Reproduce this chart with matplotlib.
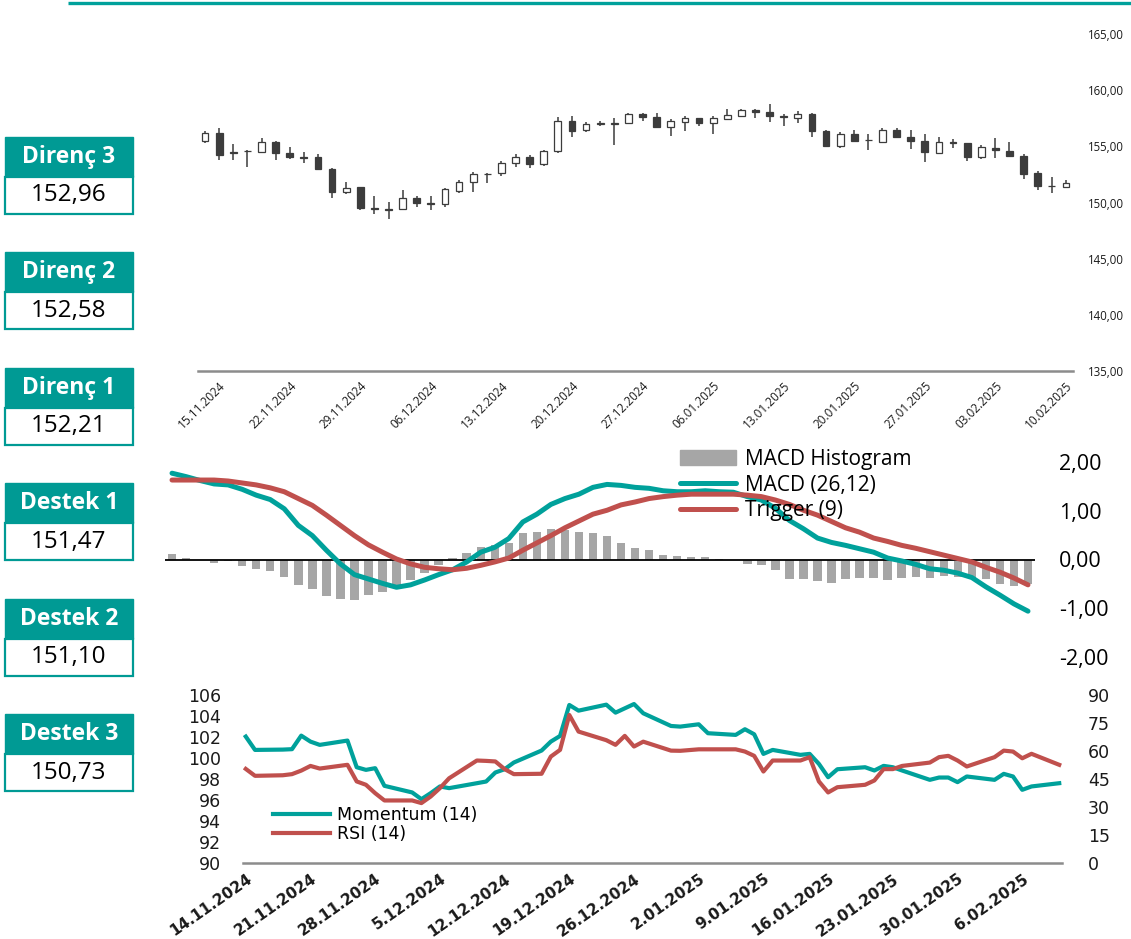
import matplotlib
matplotlib.use("Agg")
import matplotlib.pyplot as plt
import matplotlib.dates as mdates
from matplotlib.patches import Patch, Rectangle
import numpy as np
import pandas as pd

W, H = 1131, 939
PT = 0.72  # points per pixel at dpi 100
TEAL = "#00A19B"
BOX_TEAL = "#009A94"
RED = "#C0504D"
DARK = "#3C3C3C"
GREY_BAR = "#A6A6A6"

# trading days shared by all panels (1 Jan 2025 is missing in the feed)
days = pd.bdate_range("2024-11-14", "2025-02-10")
days = days[days != pd.Timestamp("2025-01-01")]

# --- daily candles ---
opens = [155.50, 156.22, 154.45, 154.58, 154.53, 155.38, 154.38, 154.05, 154.08, 152.95,
         150.96, 151.35, 149.50, 149.41, 149.39, 150.37, 149.94, 149.87, 151.05, 151.85,
         152.52, 152.60, 153.55, 154.08, 153.40, 154.59, 157.26, 156.45, 157.03, 157.03,
         157.05, 157.85, 157.64, 156.69, 157.14, 157.49, 157.05, 157.43, 157.73, 158.23,
         158.09, 157.66, 157.49, 157.88, 156.37, 155.06, 156.10, 155.58, 155.36, 156.45,
         155.86, 155.50, 154.44, 155.35, 155.27, 154.08, 154.88, 154.58, 154.17, 152.60,
         151.49, 151.41]
highs = [156.36, 156.60, 155.21, 154.64, 155.71, 155.47, 154.91, 154.53, 154.32, 153.04,
         151.85, 151.41, 150.58, 150.07, 151.11, 150.58, 150.58, 151.26, 152.00, 152.74,
         152.65, 153.69, 154.29, 154.23, 154.67, 157.64, 157.73, 157.20, 157.26, 157.49,
         157.94, 157.94, 157.94, 157.43, 157.73, 157.55, 157.73, 158.29, 158.29, 158.29,
         158.74, 157.88, 158.15, 157.94, 156.45, 156.25, 156.45, 156.07, 156.60, 156.60,
         156.45, 156.07, 155.86, 155.62, 155.27, 155.12, 155.77, 155.36, 154.29, 152.80,
         152.30, 152.00]
lows = [155.27, 153.78, 153.78, 153.19, 154.44, 153.78, 153.84, 153.49, 152.89, 150.37,
        150.76, 149.33, 148.98, 148.53, 149.39, 149.63, 149.33, 149.63, 150.82, 150.96,
        151.71, 152.39, 153.19, 153.04, 153.28, 154.38, 155.86, 156.25, 156.84, 155.12,
        156.96, 157.26, 156.60, 155.92, 156.37, 156.81, 156.10, 157.35, 157.70, 157.49,
        157.20, 156.81, 157.05, 155.86, 154.97, 154.88, 155.36, 154.67, 155.27, 155.71,
        154.73, 153.64, 154.38, 154.82, 153.72, 153.87, 153.93, 154.14, 152.09, 151.11,
        150.82, 151.41]
closes = [156.22, 154.23, 154.42, 154.60, 155.36, 154.38, 154.08, 154.00, 152.95, 150.96,
          151.32, 149.48, 149.46, 149.37, 150.37, 149.98, 149.90, 151.17, 151.85, 152.54,
          152.56, 153.55, 154.08, 153.40, 154.61, 157.26, 156.37, 156.99, 157.07, 157.07,
          157.88, 157.64, 156.69, 157.26, 157.55, 157.05, 157.49, 157.79, 158.23, 158.03,
          157.73, 157.62, 157.88, 156.37, 155.06, 156.10, 155.50, 155.54, 156.45, 155.86,
          155.50, 154.47, 155.42, 155.31, 154.08, 154.97, 154.67, 154.14, 152.54, 151.47,
          151.45, 151.71]

# --- MACD panel ---
macd_hist = [0.12, 0.03, -0.01, -0.08, -0.04, -0.13, -0.19, -0.24, -0.35, -0.52,
             -0.60, -0.75, -0.80, -0.83, -0.72, -0.66, -0.54, -0.43, -0.27, -0.12,
             0.03, 0.14, 0.25, 0.29, 0.34, 0.54, 0.56, 0.62, 0.60, 0.57,
             0.54, 0.48, 0.33, 0.24, 0.19, 0.10, 0.07, 0.05, 0.05, 0.02,
             -0.005, -0.09, -0.12, -0.22, -0.40, -0.40, -0.45, -0.49, -0.40, -0.38,
             -0.38, -0.43, -0.38, -0.35, -0.38, -0.33, -0.35, -0.40, -0.40, -0.51,
             -0.54, -0.50]
macd_line = [1.77, 1.70, 1.62, 1.55, 1.53, 1.44, 1.32, 1.23, 1.04, 0.70,
             0.49, 0.19, -0.09, -0.31, -0.40, -0.49, -0.57, -0.52, -0.42, -0.31,
             -0.21, -0.05, 0.15, 0.25, 0.43, 0.77, 0.93, 1.13, 1.25, 1.34,
             1.48, 1.54, 1.52, 1.48, 1.46, 1.41, 1.39, 1.39, 1.41, 1.39,
             1.38, 1.29, 1.22, 1.05, 0.80, 0.63, 0.44, 0.35, 0.29, 0.22,
             0.15, 0.03, -0.03, -0.10, -0.19, -0.22, -0.28, -0.37, -0.56, -0.73,
             -0.91, -1.06]
trigger = [1.63, 1.63, 1.63, 1.63, 1.61, 1.57, 1.53, 1.47, 1.39, 1.25,
           1.11, 0.91, 0.70, 0.49, 0.30, 0.15, 0.01, -0.09, -0.16, -0.19,
           -0.21, -0.18, -0.12, -0.05, 0.03, 0.19, 0.34, 0.49, 0.65, 0.79,
           0.93, 1.01, 1.12, 1.18, 1.25, 1.29, 1.32, 1.34, 1.34, 1.34,
           1.34, 1.32, 1.29, 1.22, 1.13, 1.01, 0.91, 0.78, 0.65, 0.56,
           0.44, 0.37, 0.29, 0.23, 0.16, 0.09, 0.02, -0.05, -0.16, -0.26,
           -0.38, -0.52]

# --- momentum / RSI panel ---
momentum = [102.04, 100.77, 100.80, 100.84, 102.13, 101.56, 101.25, 101.66, 99.12, 98.87,
            99.03, 97.35, 96.72, 96.08, 96.65, 97.29, 97.13, 97.60, 97.76, 98.62,
            98.93, 99.57, 100.71, 101.56, 102.10, 105.05, 104.51, 105.08, 104.32, 104.73,
            105.14, 104.26, 103.05, 102.99, 103.21, 102.36, 102.20, 102.74, 102.26, 100.39,
            100.77, 100.30, 100.39, 99.44, 98.17, 98.93, 99.12, 98.81, 99.25, 99.12,
            98.81, 97.92, 98.14, 98.14, 97.70, 98.24, 97.92, 98.49, 98.24, 96.97,
            97.29, 97.60]
rsi = [50.4, 46.7, 47.0, 47.6, 49.5, 52.0, 50.6, 52.6, 43.7, 41.9,
       37.4, 33.5, 33.5, 32.1, 35.6, 40.1, 45.4, 54.9, 54.7, 54.4,
       50.3, 47.6, 47.8, 57.0, 60.6, 79.3, 70.4, 65.8, 63.3, 68.1,
       62.4, 65.0, 60.2, 60.1, 60.9, 60.9, 60.9, 59.7, 57.4, 49.0,
       54.9, 54.9, 56.7, 43.7, 37.8, 40.6, 41.9, 44.2, 50.3, 50.3,
       52.0, 53.8, 56.7, 57.4, 54.9, 51.7, 56.7, 60.2, 59.7, 56.1,
       58.5, 52.6]

# --- support / resistance boxes ---
level_names = ["Direnç 3", "Direnç 2", "Direnç 1", "Destek 1", "Destek 2", "Destek 3"]
level_values = [152.96, 152.58, 152.21, 151.47, 151.10, 150.73]


def rect(x0, y0, x1, y1):
    """pixel box (top-left origin) -> figure fraction rect"""
    return [x0 / W, 1 - y1 / H, (x1 - x0) / W, (y1 - y0) / H]


def comma(v, nd=2):
    return f"{v:.{nd}f}".replace(".", ",")


fig = plt.figure(figsize=(W / 100, H / 100), dpi=100)

# background layer: header rule and level boxes
bg = fig.add_axes([0, 0, 1, 1], zorder=-1)
bg.set_xlim(0, W)
bg.set_ylim(H, 0)
bg.axis("off")
bg.plot([68, W], [3, 3], color=TEAL, lw=2.4, solid_capstyle="butt")
for k, (name, val) in enumerate(zip(level_names, level_values)):
    top = 137 + k * 115.4
    bg.add_patch(Rectangle((5, top), 128, 40, fc=BOX_TEAL, ec=BOX_TEAL, lw=1))
    bg.add_patch(Rectangle((5, top + 40), 128, 37, fc="white", ec=BOX_TEAL, lw=1.6))
    bg.text(69, top + 20, name, color="white", fontsize=16.5, fontweight="bold",
            family="Open Sans", ha="center", va="center")
    bg.text(69, top + 58.5, comma(val), color="black", fontsize=17.5,
            family="Open Sans", ha="center", va="center")

# ---------------- candlestick panel ----------------
ax1 = fig.add_axes(rect(198, 34, 1073, 371))
x = np.arange(len(days))
o = np.array(opens)
c = np.array(closes)
up = c >= o
body_lo = np.minimum(o, c)
body_h = np.maximum(np.abs(c - o), 0.035)
ax1.vlines(x, lows, highs, color=DARK, lw=1.1, zorder=1)
ax1.bar(x, body_h, bottom=body_lo, width=0.48,
        color=np.where(up, "white", DARK), edgecolor=DARK, linewidth=0.9, zorder=2)
ax1.set_xlim(-0.5, len(days) - 0.5)
ax1.set_ylim(135, 165)
ax1.set_yticks(np.arange(135, 166, 5))
ax1.set_yticklabels([comma(v) for v in np.arange(135, 166, 5)])
ax1.yaxis.tick_right()
tick_idx = np.arange(1, len(days), 5)
ax1.set_xticks(tick_idx)
ax1.set_xticklabels([days[i].strftime("%d.%m.%Y") for i in tick_idx],
                    rotation=45, ha="right", va="top", rotation_mode="anchor")
ax1.tick_params(axis="y", length=0, pad=15 * PT, labelsize=8.3, labelcolor="#1A1A1A")
ax1.tick_params(axis="x", length=0, pad=8 * PT, labelsize=8.5, labelcolor="#1A1A1A")
for lab in ax1.get_xticklabels() + ax1.get_yticklabels():
    lab.set_family("Open Sans")
for s in ["top", "left", "right"]:
    ax1.spines[s].set_visible(False)
ax1.spines["bottom"].set_color("#8C8C8C")
ax1.spines["bottom"].set_linewidth(1.8)
ax1.patch.set_alpha(0)

# ---------------- MACD panel ----------------
ax2 = fig.add_axes(rect(165, 462, 1035, 657))
ax2.bar(x, macd_hist, width=0.6, color=GREY_BAR, zorder=2)
ax2.axhline(0, color="black", lw=1.3, zorder=3)
l_macd, = ax2.plot(x, macd_line, color=TEAL, lw=3.6, zorder=4, solid_capstyle="round")
l_trig, = ax2.plot(x, trigger, color=RED, lw=3.6, zorder=4, solid_capstyle="round")
ax2.set_xlim(-0.5, len(days) - 0.5)
ax2.set_ylim(-2, 2)
ax2.set_xticks([])
ax2.set_yticks([-2, -1, 0, 1, 2])
ax2.set_yticklabels([comma(v) for v in [-2, -1, 0, 1, 2]])
ax2.yaxis.tick_right()
ax2.tick_params(axis="y", length=0, pad=24 * PT, labelsize=15.5, labelcolor="black")
for lab in ax2.get_yticklabels():
    lab.set_family("Open Sans")
for s in ax2.spines.values():
    s.set_visible(False)
ax2.patch.set_alpha(0)
ax2.legend([Patch(color=GREY_BAR), l_macd, l_trig],
           ["MACD Histogram", "MACD (26,12)", "Trigger (9)"],
           loc="upper left", bbox_to_anchor=(680 / W, 1 - 449 / H),
           bbox_transform=fig.transFigure, frameon=False,
           prop={"family": "Open Sans", "size": 15},
           handlelength=2.7, handletextpad=0.4, labelspacing=0.22,
           borderpad=0, borderaxespad=0)

# ---------------- momentum / RSI panel ----------------
dnum = mdates.date2num(days.to_pydatetime())
ax3 = fig.add_axes(rect(243, 695, 1062, 863))
ax3r = ax3.twinx()
l_mom, = ax3.plot(dnum, momentum, color=TEAL, lw=3.0, solid_joinstyle="round")
l_rsi, = ax3r.plot(dnum, rsi, color=RED, lw=3.0, solid_joinstyle="round")
ax3.set_xlim(dnum[0] - 0.3, dnum[-1] + 0.3)
ax3.set_ylim(90, 106)
ax3.set_yticks(np.arange(90, 107, 2))
ax3r.set_ylim(0, 90)
ax3r.set_yticks(np.arange(0, 91, 15))
week_ticks = pd.date_range(days[0], days[-1], freq="7D")
ax3.set_xticks(mdates.date2num(week_ticks.to_pydatetime()))
ax3.set_xticklabels([f"{d.day}.{d.month:02d}.{d.year}" for d in week_ticks],
                    rotation=35, ha="right", va="top", rotation_mode="anchor",
                    fontweight="bold")
ax3.tick_params(axis="x", length=0, pad=6, labelsize=11, labelcolor="#1A1A1A")
ax3.tick_params(axis="y", length=0, pad=22 * PT, labelsize=12.5, labelcolor="#1A1A1A")
ax3r.tick_params(axis="y", length=0, pad=26 * PT, labelsize=12.5, labelcolor="#1A1A1A")
for a in (ax3, ax3r):
    for lab in a.get_xticklabels() + a.get_yticklabels():
        lab.set_family("DejaVu Sans")
for s in ["top", "left", "right"]:
    ax3.spines[s].set_visible(False)
for s in ax3r.spines.values():
    s.set_visible(False)
ax3.spines["bottom"].set_color("#8C8C8C")
ax3.spines["bottom"].set_linewidth(1.8)
ax3r.legend([l_mom, l_rsi], ["Momentum (14)", "RSI (14)"],
            loc="upper left", bbox_to_anchor=(273 / W, 1 - 806 / H),
            bbox_transform=fig.transFigure, frameon=False,
            prop={"family": "DejaVu Sans", "size": 12.5},
            handlelength=3.3, handletextpad=0.4, labelspacing=0.05,
            borderpad=0, borderaxespad=0)

fig.savefig("out.png", dpi=100)
